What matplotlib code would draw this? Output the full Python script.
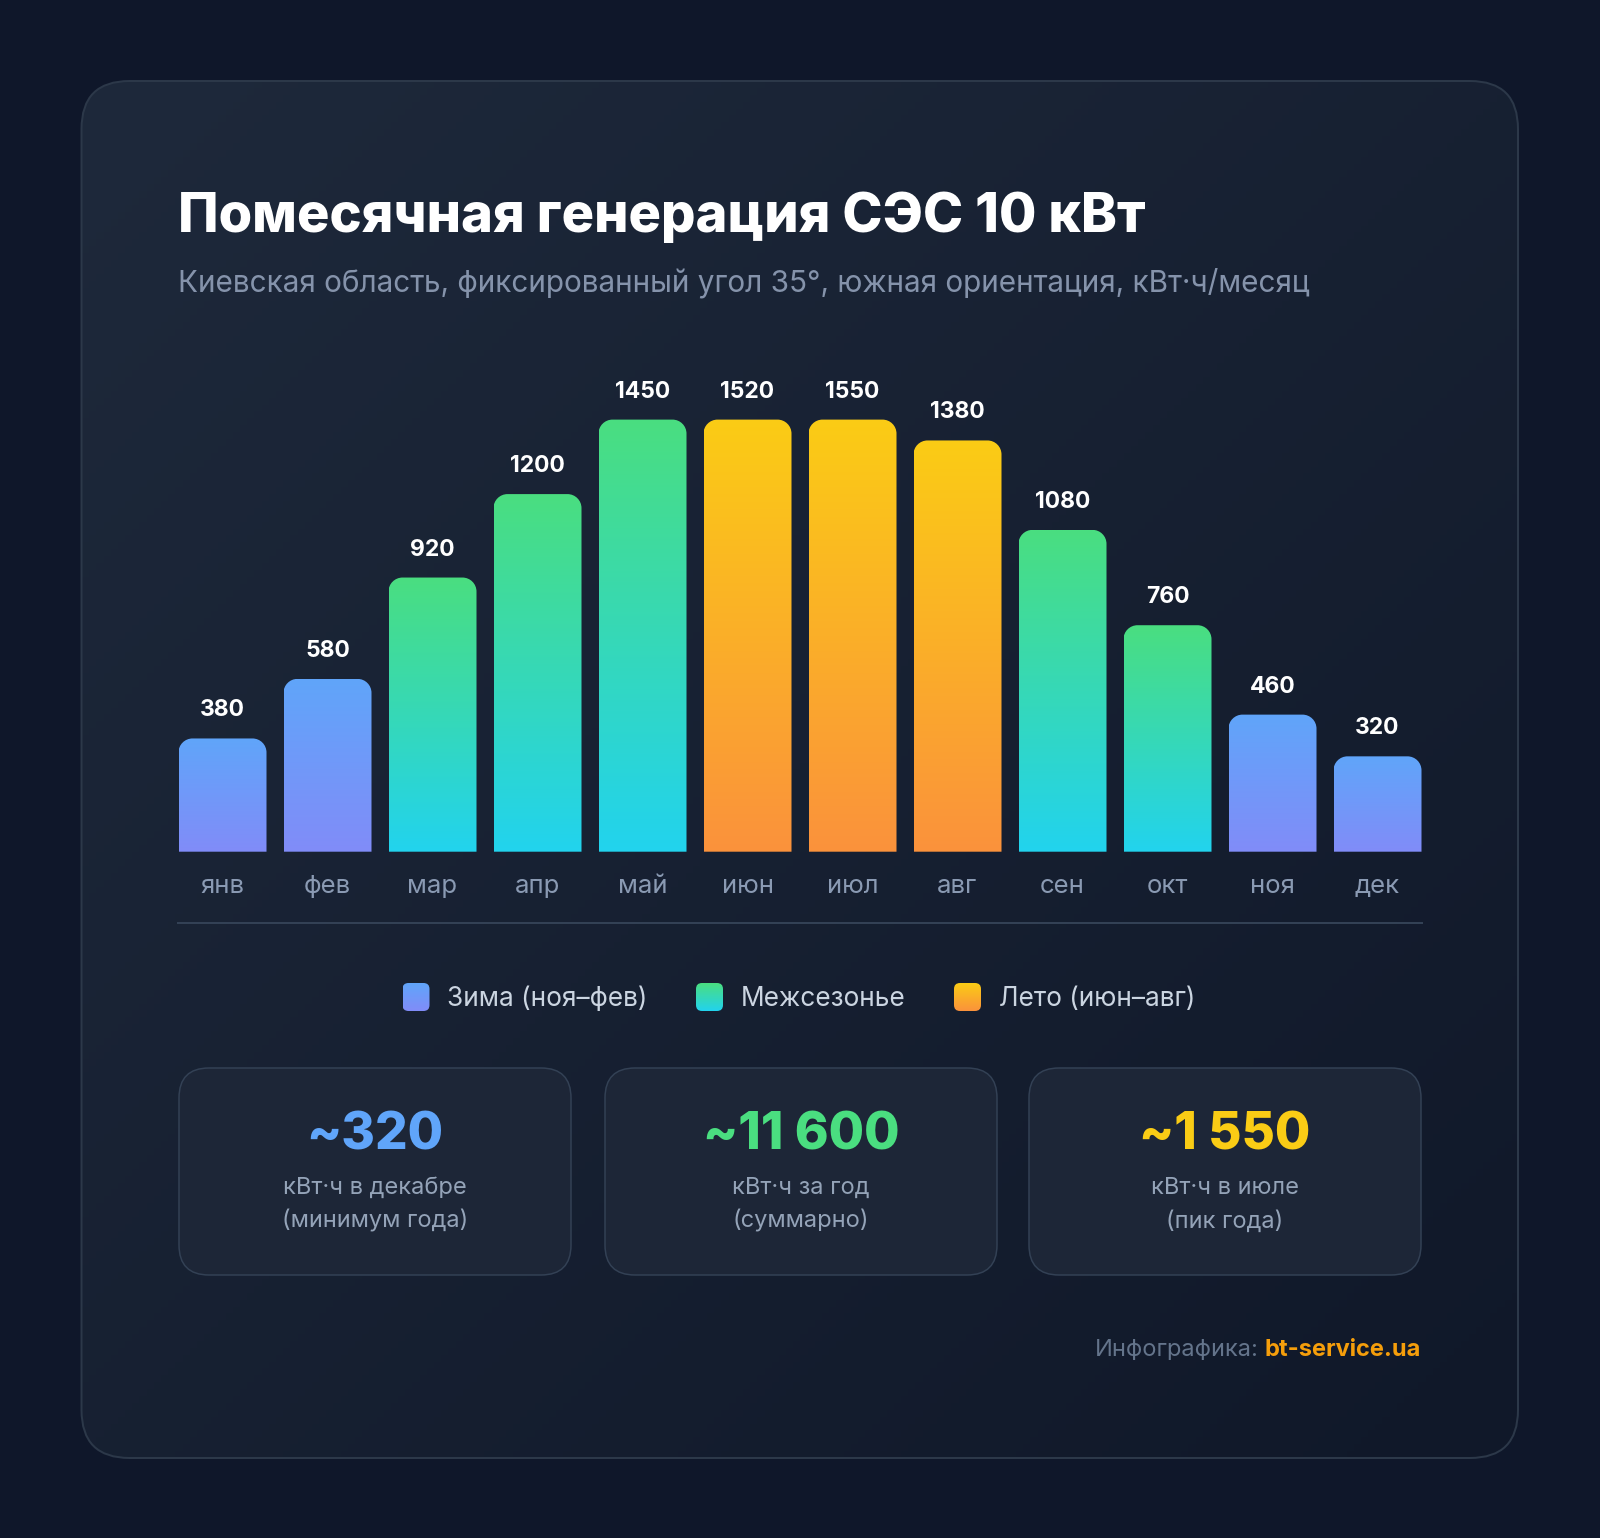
import matplotlib
matplotlib.use("Agg")
import matplotlib.pyplot as plt
import numpy as np
from matplotlib.patches import FancyBboxPatch, PathPatch
from matplotlib.path import Path
from matplotlib.colors import LinearSegmentedColormap

plt.rcParams['font.family'] = ['Inter', 'DejaVu Sans']

# data
months = ["янв", "фев", "мар", "апр", "май", "июн", "июл", "авг", "сен", "окт", "ноя", "дек"]
generation = [380, 580, 920, 1200, 1450, 1520, 1550, 1380, 1080, 760, 460, 320]
season = ["winter", "winter", "mid", "mid", "mid", "summer", "summer", "summer",
          "mid", "mid", "winter", "winter"]
bar_cap = 1450  # bars above this are drawn at the cap, like in the original

season_keys = ["winter", "mid", "summer"]
season_names = ["Зима (ноя–фев)", "Межсезонье", "Лето (июн–авг)"]
season_top = ["#60a5fa", "#4ade80", "#facc15"]
season_bottom = ["#818cf8", "#22d3ee", "#fb923c"]

stat_values = ["~320", "~11 600", "~1 550"]
stat_line1 = ["кВт·ч в декабре", "кВт·ч за год", "кВт·ч в июле"]
stat_line2 = ["(минимум года)", "(суммарно)", "(пик года)"]
stat_colors = ["#60a5fa", "#4ade80", "#facc15"]

W, H = 1600, 1538
DPI = 100
PT = 72 / DPI  # points per pixel

fig = plt.figure(figsize=(W / DPI, H / DPI), dpi=DPI)
fig.patch.set_facecolor("#0f172a")

# background axes in pixel coords
bg = fig.add_axes([0, 0, 1, 1])
bg.set_xlim(0, W)
bg.set_ylim(H, 0)
bg.axis("off")


def gradient_patch(ax, patch, c_start, c_end, diagonal=False, zorder=1):
    ax.add_patch(patch)
    ext = patch.get_path().get_extents(patch.get_patch_transform())
    x0, y0, x1, y1 = ext.x0, ext.y0, ext.x1, ext.y1
    cmap = LinearSegmentedColormap.from_list("g", [c_start, c_end])
    if diagonal:
        gx, gy = np.meshgrid(np.linspace(0, 1, 200), np.linspace(0, 1, 200))
        grad = (gx + gy) / 2
        im = ax.imshow(grad, extent=[x0, x1, y1, y0], origin="upper", aspect="auto",
                       cmap=cmap, zorder=zorder)
    else:
        grad = np.linspace(0, 1, 256).reshape(-1, 1)
        im = ax.imshow(grad, extent=[x0, x1, y1, y0], origin="lower", aspect="auto",
                       cmap=cmap, zorder=zorder)
    im.set_clip_path(patch)
    return im


# main card
card = FancyBboxPatch((81.5, 81), 1436.5, 1377, boxstyle="round,pad=0,rounding_size=48",
                      fc="none", ec="#2c3849", lw=2 * PT, zorder=2)
gradient_patch(bg, card, "#1e293b", "#101829", diagonal=True, zorder=1)
bg.set_xlim(0, W)
bg.set_ylim(H, 0)

# title
bg.text(178, 231.7, "Помесячная генерация СЭС 10 кВт", fontsize=39, fontweight="heavy",
        color="white", va="baseline", ha="left", zorder=5)
bg.text(178, 292, "Киевская область, фиксированный угол 35°, южная ориентация, кВт·ч/месяц",
        fontsize=21.4, color="#8593ab", va="baseline", ha="left", zorder=5)

# bar chart
px_x = 105.0
px_y = 0.298
ax_h = 520
bottom_px = 851.7
ax = fig.add_axes([170 / W, (H - bottom_px) / H, 1260 / W, ax_h / H])
ax.axis("off")

bar_w = 88 / px_x
rx = 14 / px_x
ry = 14 / px_y
k = 0.5523
for i, v in enumerate(generation):
    h = min(v, bar_cap)
    x0, x1 = i - bar_w / 2, i + bar_w / 2
    verts = [(x0, 0), (x0, h - ry),
             (x0, h - ry + k * ry), (x0 + rx - k * rx, h), (x0 + rx, h),
             (x1 - rx, h),
             (x1 - rx + k * rx, h), (x1, h - ry + k * ry), (x1, h - ry),
             (x1, 0), (x0, 0)]
    codes = [Path.MOVETO, Path.LINETO,
             Path.CURVE4, Path.CURVE4, Path.CURVE4,
             Path.LINETO,
             Path.CURVE4, Path.CURVE4, Path.CURVE4,
             Path.LINETO, Path.CLOSEPOLY]
    patch = PathPatch(Path(verts, codes), fc="none", ec="none")
    s = season_keys.index(season[i])
    ax.add_patch(patch)
    cmap = LinearSegmentedColormap.from_list("b", [season_bottom[s], season_top[s]])
    im = ax.imshow(np.linspace(0, 1, 256).reshape(-1, 1), extent=[x0, x1, 0, h],
                   origin="lower", aspect="auto", cmap=cmap, zorder=2)
    im.set_clip_path(patch)
    ax.annotate(str(v), (i, h), xytext=(0, 22 * PT), textcoords="offset points",
                ha="center", va="baseline", fontsize=16.5, fontweight="bold", color="white")
    ax.annotate(months[i], (i, 0), xytext=(0, -41 * PT), textcoords="offset points",
                ha="center", va="baseline", fontsize=18.5, color="#8a9ab3")

ax.set_xlim(-0.5, len(months) - 0.5)
ax.set_ylim(0, ax_h / px_y)

# separator
bg.plot([178, 1422], [922.7, 922.7], color="#334155", lw=2 * PT, zorder=5)

# legend
leg_sq_x = [402.5, 696, 954]
leg_txt_x = [447, 740.5, 998.6]
for j in range(3):
    sq = FancyBboxPatch((leg_sq_x[j], 983), 27, 28, boxstyle="round,pad=0,rounding_size=6",
                        fc="none", ec="none", zorder=5)
    gradient_patch(bg, sq, season_bottom[j], season_top[j], zorder=5)
    bg.text(leg_txt_x[j], 999, season_names[j], fontsize=18.9, color="#cbd5e1",
            va="center", ha="left", zorder=5)

# stat cards
card_x = [179, 605, 1029]
for j in range(3):
    sc = FancyBboxPatch((card_x[j], 1068), 392, 207, boxstyle="round,pad=0,rounding_size=30",
                        fc="#1d2637", ec="#334155", lw=1.5 * PT, zorder=4)
    bg.add_patch(sc)
    cx = card_x[j] + 196
    bg.text(cx, 1150, stat_values[j], fontsize=37, fontweight="heavy", color=stat_colors[j],
            ha="center", va="baseline", zorder=6)
    bg.text(cx, 1194, stat_line1[j], fontsize=17, color="#94a3b8", ha="center",
            va="baseline", zorder=6)
    bg.text(cx, 1228, stat_line2[j], fontsize=17, color="#94a3b8", ha="center",
            va="baseline", zorder=6)

# footer
t1 = bg.text(1421, 1355.7, "bt-service.ua", fontsize=17, fontweight="bold", color="#f59e0b",
             ha="right", va="baseline", zorder=6)
bg.annotate("Инфографика:", xy=(0, 0), xycoords=t1, xytext=(-6 * PT, 0),
            textcoords="offset points", fontsize=17, color="#64748b",
            ha="right", va="bottom", zorder=6)

bg.set_xlim(0, W)
bg.set_ylim(H, 0)

fig.savefig("out.png", dpi=DPI, facecolor=fig.get_facecolor())
